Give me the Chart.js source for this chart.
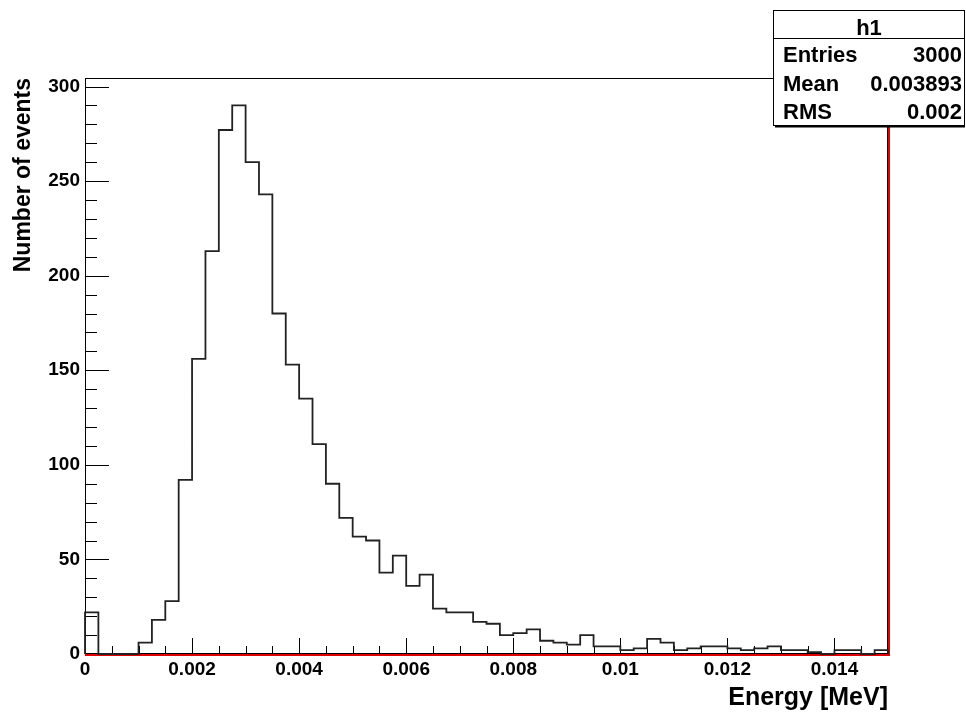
<!DOCTYPE html>
<html>
<head>
<meta charset="utf-8">
<title>h1</title>
<script src="https://cdn.jsdelivr.net/npm/chart.js@4.4.1/dist/chart.umd.min.js"></script>
<style>
  body { margin: 0; background: #fff; }
  canvas { display: block; }
</style>
</head>
<body>
<canvas id="hist" width="966" height="713"></canvas>
<script>
// h1: deposited energy, 60 bins of 0.00025 MeV between 0 and 0.015
const xMin = 0;
const xMax = 0.015;
const binWidth = 0.00025;
const counts = [
  22, 0, 0, 0, 6, 18, 28, 92, 156, 213,
  277, 290, 260, 243, 180, 153, 135, 111, 90, 72,
  62, 60, 43, 52, 36, 42, 24, 22, 22, 17,
  16, 10, 11, 13, 7, 6, 5, 10, 4, 4,
  2, 3, 8, 6, 2, 3, 4, 4, 3, 2,
  3, 4, 2, 2, 1, 0, 2, 2, 0, 2
];
const yMax = 304.5;
const xTicks = [0, 0.002, 0.004, 0.006, 0.008, 0.01, 0.012, 0.014];
const yTicks = [0, 50, 100, 150, 200, 250, 300];
const xMinorStep = 0.0005;
const yMinorStep = 10;

const statsTitle = 'h1';
const statsNames = ['Entries', 'Mean', 'RMS'];
const statsValues = ['3000', '0.003893', '0.002'];

const FONT = '"Liberation Sans", Arial, Helvetica, sans-serif';

// outline of the histogram: one point per bin low edge, closed at both ends
const outline = [{x: xMin, y: 0}];
counts.forEach((c, i) => outline.push({x: xMin + i * binWidth, y: c}));
outline.push({x: xMax, y: 0});

// frame, red axis line and inward tick marks
const frame = {
  id: 'frame',
  beforeDatasetsDraw(chart) {
    const {ctx, chartArea: a, scales: {x, y}} = chart;
    ctx.save();
    ctx.strokeStyle = '#000';
    ctx.lineWidth = 1;
    ctx.strokeRect(a.left + 0.5, a.top + 0.5, a.right - a.left - 1, a.bottom - a.top - 1);

    ctx.beginPath();
    for (let i = 0; i * xMinorStep <= xMax + 1e-12; i++) {
      const px = Math.round(x.getPixelForValue(i * xMinorStep)) + 0.5;
      const len = i % 4 === 0 ? 16 : 8;
      ctx.moveTo(px, a.bottom);
      ctx.lineTo(px, a.bottom - len);
    }
    for (let i = 0; i * yMinorStep <= yMax; i++) {
      const py = Math.round(y.getPixelForValue(i * yMinorStep)) + 0.5;
      const len = i % 5 === 0 ? 24 : 12;
      ctx.moveTo(a.left, py);
      ctx.lineTo(a.left + len, py);
    }
    ctx.stroke();

    ctx.strokeStyle = '#e00000';
    ctx.lineWidth = 2;
    ctx.beginPath();
    ctx.moveTo(a.left, a.bottom + 1);
    ctx.lineTo(a.right + 1, a.bottom + 1);
    ctx.lineTo(a.right + 1, a.top);
    ctx.stroke();
    ctx.restore();
  }
};

// statistics box in the top right corner
const statsBox = {
  id: 'statsBox',
  afterDraw(chart) {
    const {ctx} = chart;
    const x0 = 773, y0 = 10, x1 = 965, y1 = 126;
    ctx.save();
    ctx.fillStyle = '#fff';
    ctx.fillRect(x0, y0, x1 - x0, y1 - y0);
    ctx.strokeStyle = '#000';
    ctx.lineWidth = 1;
    ctx.strokeRect(x0 + 0.5, y0 + 0.5, x1 - x0 - 1, y1 - y0 - 1);
    ctx.lineWidth = 2;
    ctx.beginPath();
    ctx.moveTo(x0 + 2, y1 + 0.5);
    ctx.lineTo(x1, y1 + 0.5);
    ctx.stroke();
    ctx.lineWidth = 1;
    ctx.beginPath();
    ctx.moveTo(x0, 38.5);
    ctx.lineTo(x1, 38.5);
    ctx.stroke();

    ctx.fillStyle = '#000';
    ctx.font = 'bold 22px ' + FONT;
    ctx.textBaseline = 'alphabetic';
    ctx.textAlign = 'center';
    ctx.fillText(statsTitle, (x0 + x1) / 2, 35);
    statsNames.forEach((name, i) => {
      const base = 62 + i * 28.5;
      ctx.textAlign = 'left';
      ctx.fillText(name, 783, base);
      ctx.textAlign = 'right';
      ctx.fillText(statsValues[i], 962, base);
    });
    ctx.restore();
  }
};

new Chart(document.getElementById('hist'), {
  type: 'line',
  data: {
    datasets: [{
      data: outline,
      stepped: true,
      borderColor: '#222',
      borderWidth: 1.8,
      pointRadius: 0,
      fill: false,
      clip: 4
    }]
  },
  options: {
    responsive: false,
    animation: false,
    layout: { padding: { top: 78, right: 78, left: 0, bottom: 0 } },
    plugins: { legend: { display: false }, tooltip: { enabled: false } },
    scales: {
      x: {
        type: 'linear',
        min: xMin,
        max: xMax,
        afterFit: s => { s.height = 59; },
        afterBuildTicks: s => { s.ticks = xTicks.map(v => ({value: v})); },
        grid: { display: false, drawTicks: false },
        border: { display: false },
        ticks: {
          padding: 4,
          maxRotation: 0,
          autoSkip: false,
          color: '#000',
          font: { family: FONT, size: 19, weight: 'bold' },
          callback: v => String(Number(v.toFixed(4)))
        },
        title: {
          display: true,
          text: 'Energy [MeV]',
          align: 'end',
          color: '#000',
          padding: 0,
          font: { family: FONT, size: 25, weight: 'bold' }
        }
      },
      y: {
        min: 0,
        max: yMax,
        afterFit: s => { s.width = 85; },
        afterBuildTicks: s => { s.ticks = yTicks.map(v => ({value: v})); },
        grid: { display: false, drawTicks: false },
        border: { display: false },
        ticks: {
          padding: 5,
          color: '#000',
          font: { family: FONT, size: 19, weight: 'bold' }
        },
        title: {
          display: true,
          text: 'Number of events',
          align: 'end',
          color: '#000',
          padding: { top: 10, bottom: 0 },
          font: { family: FONT, size: 23, weight: 'bold' }
        }
      }
    }
  },
  plugins: [frame, statsBox]
});
</script>
</body>
</html>
